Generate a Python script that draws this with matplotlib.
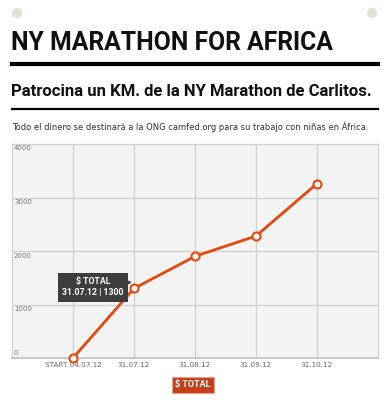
import matplotlib
matplotlib.use("Agg")
import matplotlib.pyplot as plt
import matplotlib.transforms as mtransforms
from matplotlib.patches import Circle
from matplotlib.lines import Line2D

categories = ["START 04.07.12", "31.07.12", "31.08.12", "31.09.12", "31.10.12"]
totals = [0, 1300, 1900, 2280, 3260]
yticks = [0, 1000, 2000, 3000, 4000]
title = "NY MARATHON FOR AFRICA"
subtitle = "Patrocina un KM. de la NY Marathon de Carlitos."
note = "Todo el dinero se destinará a la ONG camfed.org para su trabajo con niñas en África."
series_name = "$ TOTAL"
tip_index = 1

W, H = 387, 400
fig = plt.figure(figsize=(W / 100, H / 100), dpi=100)
fig.patch.set_facecolor("white")
renderer = fig.canvas.get_renderer()

narrow = ["Roboto", "DejaVu Sans"]

def fx(px):
    return px / W

def fy(py):
    return 1 - py / H

def fit(t, width_px):
    bb = t.get_window_extent(renderer=renderer)
    t.set_fontsize(t.get_fontsize() * width_px / bb.width)

# corner dots
for cx in (17, 372):
    fig.patches.append(Circle((fx(cx), fy(13)), 5 / W, transform=fig.transFigure,
                              facecolor="#e3e0d8", edgecolor="none"))

t1 = fig.text(fx(11), fy(43), title, fontsize=20, fontweight="bold", family=narrow,
              color="#111111", va="center", ha="left")
fit(t1, 321)
fig.add_artist(Line2D([fx(12), fx(378)], [fy(64), fy(64)], color="black", lw=3,
                      transform=fig.transFigure))
t2 = fig.text(fx(11), fy(92), subtitle, fontsize=14, fontweight="bold", family=narrow,
              color="#111111", va="center", ha="left")
fit(t2, 362)
fig.add_artist(Line2D([fx(12), fx(378)], [fy(108.5), fy(108.5)], color="black", lw=1.6,
                      transform=fig.transFigure))
t3 = fig.text(fx(12), fy(127), note, fontsize=5.6, family="DejaVu Sans",
              color="#333333", va="center", ha="left")
fit(t3, 355)

ax = fig.add_axes([fx(12), fy(358), (378 - 12) / W, (358 - 144) / H])
ax.set_facecolor("#f4f4f4")
x = list(range(len(categories)))
ax.set_xlim(-1, len(categories))
ax.set_ylim(0, 4000)
ax.set_xticks(x)
ax.set_yticks(yticks)
ax.grid(True, color="#cfcfcf", lw=0.9)
ax.set_axisbelow(True)
for s in ax.spines.values():
    s.set_color("#d0d0d0")
    s.set_linewidth(0.9)
ax.spines["bottom"].set_color("#c4c4c4")
ax.spines["bottom"].set_linewidth(1.3)
ax.tick_params(length=0, labelleft=False)
ax.set_xticklabels(categories, fontsize=5.2, color="#666666", family="DejaVu Sans")
ax.tick_params(axis="x", pad=3)

for v in yticks:
    if v == 0:
        ax.annotate(str(v), (-1, v), xytext=(2, 2), textcoords="offset pixels",
                    fontsize=5, color="#777777", va="bottom", ha="left")
    else:
        ax.annotate(str(v), (-1, v), xytext=(2, -1.5), textcoords="offset pixels",
                    fontsize=5, color="#777777", va="top", ha="left")

ax.plot(x, totals, color="#e5470f", lw=2, marker="o", ms=5.8, mfc="white",
        mec="#e5470f", mew=1.5, zorder=5, clip_on=False)

# tooltip
tt = ax.annotate(f"{series_name}\n{categories[tip_index]} | {totals[tip_index]}",
                 (x[tip_index], totals[tip_index]), xytext=(-41, 1), textcoords="offset pixels",
                 ha="center", va="center", fontsize=6.3, fontweight="bold", family=narrow,
                 color="white", linespacing=1.3, zorder=6,
                 bbox=dict(boxstyle="square,pad=0.5", facecolor="#3d3d3d", edgecolor="none"))
ax.plot([x[tip_index]], [totals[tip_index]], marker=">", ms=4, color="#3d3d3d",
        transform=ax.transData + mtransforms.ScaledTranslation(-7.5 / 100, 6 / 100, fig.dpi_scale_trans),
        zorder=6, clip_on=False)

# legend
fig.text(fx(193), fy(385), series_name, fontsize=6.5, fontweight="bold", family=narrow,
         color="white", ha="center", va="center",
         bbox=dict(boxstyle="square,pad=0.35", facecolor="#c4401c", edgecolor="#e9a08a", lw=0.8))

fig.savefig("out.png", dpi=100)
